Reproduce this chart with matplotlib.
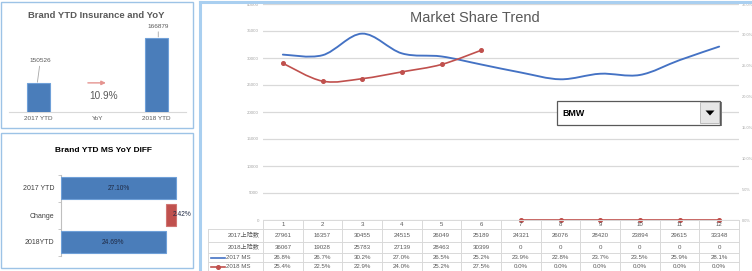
import matplotlib
matplotlib.use("Agg")
import matplotlib.pyplot as plt
from matplotlib.path import Path
from matplotlib.patches import PathPatch, Rectangle, Polygon
from matplotlib.lines import Line2D
from matplotlib.transforms import blended_transform_factory
import numpy as np

plt.rcParams['font.family'] = ['Liberation Sans', 'Noto Sans CJK SC', 'DejaVu Sans']

# ---------------- data ----------------
months = [1, 2, 3, 4, 5, 6, 7, 8, 9, 10, 11, 12]
ins_2017 = [27961, 16357, 30455, 24515, 26049, 25189, 24321, 26076, 28420, 23894, 29615, 33348]
ins_2018 = [36067, 19028, 25783, 27139, 28463, 30399, 0, 0, 0, 0, 0, 0]
ms_2017 = [26.8, 26.7, 30.2, 27.0, 26.5, 25.2, 23.9, 22.8, 23.7, 23.5, 25.9, 28.1]
ms_2018 = [25.4, 22.5, 22.9, 24.0, 25.2, 27.5, 0.0, 0.0, 0.0, 0.0, 0.0, 0.0]
row_labels = ['2017上险数', '2018上险数', '2017 MS', '2018 MS']

ytd_cats = ['2017 YTD', 'YoY', '2018 YTD']
ytd_vals = [150526, 166879]

diff_cats = ['2017 YTD', 'Change', '2018YTD']
diff_vals = [27.10, 2.42, 24.69]

brand = 'BMW'

# ---------------- figure ----------------
W, H = 752, 271
fig = plt.figure(figsize=(W / 100, H / 100), dpi=100)
fig.patch.set_facecolor('white')


def rect(x0, y0, x1, y1):
    return [x0 / W, 1 - y1 / H, (x1 - x0) / W, (y1 - y0) / H]


def fx(x):
    return x / W


def fy(y):
    return 1 - y / H


BLUE = '#4A7DBA'
BLUE_EDGE = '#6FA0D8'
RED = '#C0504D'
LINE_BLUE = '#4472C4'
GRAY_TXT = '#595959'
BORDER = '#9DC3E6'

# panel borders
fig.add_artist(Rectangle((fx(1.5), fy(127.5)), (191.5) / W, 126 / H, transform=fig.transFigure,
                         fill=False, edgecolor=BORDER, lw=1.0))
fig.add_artist(Rectangle((fx(1.5), fy(267.5)), (191.5) / W, 134.5 / H, transform=fig.transFigure,
                         fill=False, edgecolor=BORDER, lw=1.0))
fig.add_artist(Line2D([fx(199.5), fx(199.5)], [fy(1.5), fy(271)], transform=fig.transFigure,
                      color='#A9CFF0', lw=2.2))
fig.add_artist(Line2D([fx(199.5), fx(752)], [fy(1.5), fy(1.5)], transform=fig.transFigure,
                      color='#A9CFF0', lw=2.2))

# ---------------- panel 1: YTD insurance ----------------
ax1 = fig.add_axes(rect(9, 29, 186, 112))
ax1.set_xlim(-0.5, 2.5)
ax1.set_ylim(140000, 170000)
bx = [0, 2]
ax1.bar(bx, ytd_vals, width=0.39, color=BLUE, edgecolor=BLUE_EDGE, lw=0.8, zorder=3)
for s in ['top', 'right', 'left']:
    ax1.spines[s].set_visible(False)
ax1.spines['bottom'].set_color('#D9D9D9')
ax1.spines['bottom'].set_linewidth(0.8)
ax1.set_yticks([])
ax1.set_xticks([0, 1, 2])
ax1.set_xticklabels(ytd_cats, fontsize=4.6, color=GRAY_TXT)
ax1.tick_params(axis='x', length=0, pad=3)
ax1.annotate(f'{ytd_vals[0]}', xy=(-0.02, ytd_vals[0]), xytext=(2.2, 14.5), textcoords='offset points',
             ha='center', va='bottom', fontsize=4.6, color=GRAY_TXT,
             arrowprops=dict(arrowstyle='-', color='#A6A6A6', lw=0.6, shrinkA=0.5, shrinkB=0.5),
             annotation_clip=False)
ax1.annotate(f'{ytd_vals[1]}', xy=(2.03, ytd_vals[1]), xytext=(0, 6.5), textcoords='offset points',
             ha='center', va='bottom', fontsize=4.6, color=GRAY_TXT,
             arrowprops=dict(arrowstyle='-', color='#A6A6A6', lw=0.6, shrinkA=0.3, shrinkB=0.5),
             annotation_clip=False)
yoy = (ytd_vals[1] / ytd_vals[0] - 1) * 100
ax1.annotate('', xy=(1.19, ytd_vals[0]), xytext=(0.79, ytd_vals[0]),
             arrowprops=dict(arrowstyle='-|>,head_length=0.25,head_width=0.12', color='#E59490', lw=1.0))
ax1.annotate(f'{yoy:.1f}%', xy=(1.0, ytd_vals[0]), xytext=(4.5, -9.5), textcoords='offset points',
             ha='center', va='center', fontsize=7.2, color=GRAY_TXT)
fig.text(fx(96), fy(15.5), 'Brand YTD Insurance and YoY', ha='center', va='center',
         fontsize=6.8, fontweight='bold', color=GRAY_TXT)

# ---------------- panel 2: MS YoY diff ----------------
ax2 = fig.add_axes(rect(61, 174.5, 190, 255.5))
ax2.set_xlim(0, 30.4)
ax2.set_ylim(2.5, -0.5)
lefts = [0, diff_vals[2], 0]
cols = [BLUE, RED, BLUE]
edges = [BLUE_EDGE, '#D07572', BLUE_EDGE]
ax2.barh([0, 1, 2], diff_vals, left=lefts, height=0.82, color=cols, edgecolor=edges, lw=0.8, zorder=3)
for s in ['top', 'right', 'bottom']:
    ax2.spines[s].set_visible(False)
ax2.spines['left'].set_color('#BFBFBF')
ax2.spines['left'].set_linewidth(0.8)
ax2.set_xticks([])
ax2.set_yticks([0, 1, 2])
ax2.set_yticklabels(diff_cats, fontsize=5.0, color='#404040')
ax2.set_yticks([-0.5, 0.5, 1.5, 2.5], minor=True)
ax2.tick_params(axis='y', which='major', length=0, pad=5)
ax2.tick_params(axis='y', which='minor', length=2, color='#BFBFBF', width=0.6)
for i, (v, l) in enumerate(zip(diff_vals, lefts)):
    dx = 8 if i == 1 else 0
    ax2.annotate(f'{v:.2f}%', xy=(l + v / 2, i), xytext=(dx, 0), textcoords='offset points',
                 ha='center', va='center', fontsize=4.8, color='#1F2A44', zorder=5,
                 annotation_clip=False)
fig.text(fx(103), fy(151), 'Brand YTD MS YoY DIFF', ha='center', va='center',
         fontsize=6.0, fontweight='bold', color='#000000')

# ---------------- main chart ----------------
axL = fig.add_axes(rect(263, 4, 739, 220))
axL.set_xlim(0.5, 12.5)
axL.set_ylim(0, 40000)
axL.set_yticks(np.arange(0, 40001, 5000))
axL.set_yticklabels([f'{int(v)}' for v in np.arange(0, 40001, 5000)], fontsize=3.2, color='#A6A6A6')
axL.tick_params(axis='y', length=0, pad=3)
axL.set_xticks([])
axL.grid(axis='y', color='#D9D9D9', lw=0.9)
axL.set_axisbelow(True)
for s in axL.spines.values():
    s.set_visible(False)

axR = axL.twinx()
axR.set_ylim(0, 35)
axR.set_yticks(np.arange(0, 36, 5))
axR.set_yticklabels([f'{v:.1f}%' for v in np.arange(0, 36, 5)], fontsize=2.9, color='#A6A6A6')
axR.tick_params(axis='y', length=0, pad=2)
for s in axR.spines.values():
    s.set_visible(False)


def smooth_path(x, y):
    n = len(x)
    verts = [(x[0], y[0])]
    codes = [Path.MOVETO]
    for i in range(n - 1):
        ip = max(i - 1, 0)
        inn = min(i + 2, n - 1)
        c1 = (x[i] + (x[i + 1] - x[ip]) / 6, y[i] + (y[i + 1] - y[ip]) / 6)
        c2 = (x[i + 1] - (x[inn] - x[i]) / 6, y[i + 1] - (y[inn] - y[i]) / 6)
        verts += [c1, c2, (x[i + 1], y[i + 1])]
        codes += [Path.CURVE4] * 3
    return Path(verts, codes)


axR.add_patch(PathPatch(smooth_path(months, ms_2017), fill=False, edgecolor=LINE_BLUE,
                        lw=1.35, capstyle='round', joinstyle='round', zorder=4))

has18 = [v > 0 for v in ins_2018]
seg1_x = [m for m, h in zip(months, has18) if h]
seg1_y = [v for v, h in zip(ms_2018, has18) if h]
seg2_x = [m for m, h in zip(months, has18) if not h]
seg2_y = [v for v, h in zip(ms_2018, has18) if not h]
axR.add_patch(PathPatch(smooth_path(seg1_x, seg1_y), fill=False, edgecolor=RED,
                        lw=1.2, capstyle='round', zorder=5))
axR.plot(seg1_x, seg1_y, linestyle='none', marker='o', ms=2.6, color=RED, zorder=6)
axR.plot(seg2_x, seg2_y, color=RED, lw=1.2, marker='o', ms=2.6, zorder=6, clip_on=False)

fig.text(fx(475), fy(18), 'Market Share Trend', ha='center', va='center',
         fontsize=10.5, color=GRAY_TXT)

# ---------------- data table ----------------
TC = '#D9D9D9'
tt = blended_transform_factory(axR.transData, fig.transFigure)
row_b = [220, 229, 242, 253, 262, 271]
# horizontal lines
fig.add_artist(Line2D([0.5, 12.5], [fy(row_b[0]), fy(row_b[0])], transform=tt, color=TC, lw=0.7, zorder=1))
for yb in row_b[1:]:
    fig.add_artist(Line2D([fx(208), fx(263)], [fy(yb), fy(yb)], transform=fig.transFigure, color=TC, lw=0.7))
    fig.add_artist(Line2D([0.5, 12.5], [fy(yb), fy(yb)], transform=tt, color=TC, lw=0.7))
# vertical lines
for k in range(13):
    fig.add_artist(Line2D([0.5 + k, 0.5 + k], [fy(row_b[0]), fy(row_b[-1])], transform=tt, color=TC, lw=0.7))
fig.add_artist(Line2D([fx(208), fx(208)], [fy(row_b[1]), fy(row_b[-1])], transform=fig.transFigure, color=TC, lw=0.7))

centers = [(row_b[i] + row_b[i + 1]) / 2 for i in range(5)]
TFS = 4.4
for m in months:
    fig.text(m, fy(centers[0]), str(m), transform=tt, ha='center', va='center', fontsize=TFS, color=GRAY_TXT)
rows = [
    [str(v) for v in ins_2017],
    [str(v) for v in ins_2018],
    [f'{v:.1f}%' for v in ms_2017],
    [f'{v:.1f}%' for v in ms_2018],
]
for r, vals in enumerate(rows):
    for m, s in zip(months, vals):
        fig.text(m, fy(centers[r + 1]), s, transform=tt, ha='center', va='center', fontsize=TFS, color=GRAY_TXT)

fig.text(fx(260), fy(centers[1]), row_labels[0], ha='right', va='center', fontsize=TFS, color=GRAY_TXT)
fig.text(fx(260), fy(centers[2]), row_labels[1], ha='right', va='center', fontsize=TFS, color=GRAY_TXT)
fig.text(fx(226), fy(centers[3]), row_labels[2], ha='left', va='center', fontsize=TFS, color=GRAY_TXT)
fig.text(fx(226), fy(centers[4]), row_labels[3], ha='left', va='center', fontsize=TFS, color=GRAY_TXT)
fig.add_artist(Line2D([fx(211), fx(225)], [fy(centers[3]), fy(centers[3])], transform=fig.transFigure,
                      color=LINE_BLUE, lw=1.2))
fig.add_artist(Line2D([fx(211), fx(225)], [fy(centers[4]), fy(centers[4])], transform=fig.transFigure,
                      color=RED, lw=1.2))
fig.add_artist(Line2D([fx(218)], [fy(centers[4])], transform=fig.transFigure, color=RED,
                      marker='o', ms=2.6, linestyle='none'))

# ---------------- dropdown ----------------
fig.add_artist(Rectangle((fx(558), fy(126)), 164 / W, 24 / H, transform=fig.transFigure,
                         facecolor='#7F7F7F', edgecolor='none', zorder=10))
fig.add_artist(Rectangle((fx(556.5), fy(124.5)), 163.5 / W, 24 / H, transform=fig.transFigure,
                         facecolor='white', edgecolor='#595959', lw=0.9, zorder=11))
fig.add_artist(Rectangle((fx(700), fy(123.5)), 19 / W, 21.5 / H, transform=fig.transFigure,
                         facecolor='#E6E6E6', edgecolor='#A6A6A6', lw=0.5, zorder=12))
fig.add_artist(Polygon([(fx(705.5), fy(110.5)), (fx(714.5), fy(110.5)), (fx(710), fy(115.5))],
                       closed=True, transform=fig.transFigure, facecolor='black', edgecolor='none', zorder=13))
fig.text(fx(562), fy(113), brand, ha='left', va='center', fontsize=6.4, color='black',
         fontweight='bold', zorder=13)

fig.savefig('out.png', dpi=100, facecolor='white')
